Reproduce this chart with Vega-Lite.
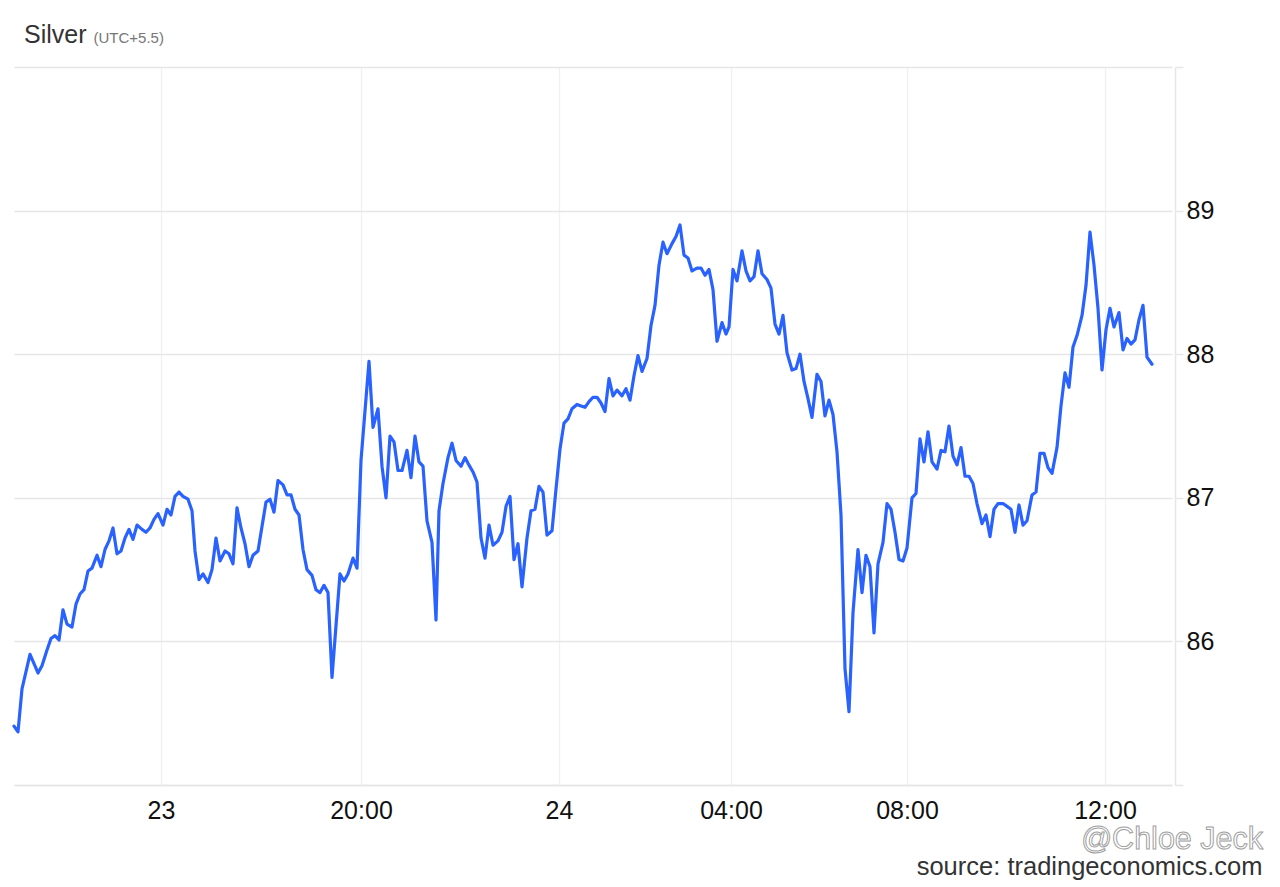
{
  "$schema": "https://vega.github.io/schema/vega-lite/v6.json",
  "width": 1158,
  "height": 718,
  "autosize": {"type": "none"},
  "padding": {"left": 14, "top": 67, "right": 108, "bottom": 102},
  "background": "#ffffff",
  "config": {"view": {"stroke": null}, "font": "Liberation Sans"},
  "title": {"text": "Silver", "anchor": "start", "frame": "group", "fontSize": 25, "fontWeight": "normal", "color": "#333333", "font": "Liberation Sans", "dx": 10, "dy": 58, "baseline": "alphabetic", "offset": 20},
  "layer": [
    {
      "data": {"values": [
        {"pos":0,"price":85.41},{"pos":4,"price":85.37},{"pos":8,"price":85.67},{"pos":16,"price":85.91},{"pos":24,"price":85.78},{"pos":28,"price":85.83},{"pos":33,"price":85.94},{"pos":37,"price":86.02},{"pos":41,"price":86.04},{"pos":45,"price":86.01},{"pos":49,"price":86.22},{"pos":53,"price":86.12},{"pos":58,"price":86.10},{"pos":62,"price":86.26},{"pos":66,"price":86.33},{"pos":70,"price":86.36},{"pos":74,"price":86.49},{"pos":78,"price":86.51},{"pos":83,"price":86.60},{"pos":87,"price":86.52},{"pos":91,"price":86.64},{"pos":95,"price":86.70},{"pos":99,"price":86.79},{"pos":103,"price":86.61},{"pos":107,"price":86.63},{"pos":111,"price":86.72},{"pos":115,"price":86.78},{"pos":119,"price":86.71},{"pos":123,"price":86.81},{"pos":128,"price":86.78},{"pos":132,"price":86.76},{"pos":136,"price":86.79},{"pos":140,"price":86.85},{"pos":144,"price":86.89},{"pos":149,"price":86.81},{"pos":153,"price":86.92},{"pos":157,"price":86.88},{"pos":161,"price":87.01},{"pos":165,"price":87.04},{"pos":169,"price":87.01},{"pos":174,"price":86.99},{"pos":178,"price":86.91},{"pos":181,"price":86.63},{"pos":185,"price":86.43},{"pos":189,"price":86.47},{"pos":194,"price":86.41},{"pos":198,"price":86.50},{"pos":202,"price":86.72},{"pos":206,"price":86.56},{"pos":211,"price":86.63},{"pos":215,"price":86.61},{"pos":219,"price":86.54},{"pos":223,"price":86.93},{"pos":227,"price":86.79},{"pos":231,"price":86.68},{"pos":235,"price":86.52},{"pos":239,"price":86.60},{"pos":244,"price":86.63},{"pos":248,"price":86.80},{"pos":252,"price":86.97},{"pos":256,"price":86.99},{"pos":260,"price":86.90},{"pos":264,"price":87.12},{"pos":269,"price":87.09},{"pos":273,"price":87.02},{"pos":277,"price":87.02},{"pos":281,"price":86.92},{"pos":285,"price":86.88},{"pos":289,"price":86.64},{"pos":293,"price":86.50},{"pos":298,"price":86.46},{"pos":302,"price":86.36},{"pos":306,"price":86.34},{"pos":310,"price":86.39},{"pos":314,"price":86.34},{"pos":318,"price":85.75},{"pos":326,"price":86.47},{"pos":330,"price":86.42},{"pos":334,"price":86.47},{"pos":339,"price":86.58},{"pos":343,"price":86.51},{"pos":347,"price":87.26},{"pos":355,"price":87.95},{"pos":359,"price":87.49},{"pos":364,"price":87.62},{"pos":368,"price":87.22},{"pos":372,"price":87.00},{"pos":376,"price":87.43},{"pos":380,"price":87.39},{"pos":384,"price":87.19},{"pos":388,"price":87.19},{"pos":393,"price":87.33},{"pos":397,"price":87.14},{"pos":401,"price":87.43},{"pos":405,"price":87.25},{"pos":409,"price":87.22},{"pos":413,"price":86.84},{"pos":418,"price":86.69},{"pos":422,"price":86.15},{"pos":425,"price":86.91},{"pos":429,"price":87.10},{"pos":434,"price":87.28},{"pos":438,"price":87.38},{"pos":442,"price":87.26},{"pos":447,"price":87.22},{"pos":451,"price":87.28},{"pos":454,"price":87.24},{"pos":459,"price":87.18},{"pos":463,"price":87.11},{"pos":467,"price":86.72},{"pos":471,"price":86.58},{"pos":475,"price":86.81},{"pos":479,"price":86.67},{"pos":484,"price":86.70},{"pos":488,"price":86.76},{"pos":492,"price":86.94},{"pos":496,"price":87.01},{"pos":500,"price":86.57},{"pos":504,"price":86.68},{"pos":508,"price":86.38},{"pos":513,"price":86.72},{"pos":517,"price":86.91},{"pos":521,"price":86.92},{"pos":525,"price":87.08},{"pos":529,"price":87.04},{"pos":533,"price":86.74},{"pos":538,"price":86.77},{"pos":542,"price":87.06},{"pos":546,"price":87.34},{"pos":550,"price":87.52},{"pos":554,"price":87.55},{"pos":558,"price":87.62},{"pos":563,"price":87.65},{"pos":567,"price":87.64},{"pos":571,"price":87.63},{"pos":575,"price":87.67},{"pos":579,"price":87.70},{"pos":583,"price":87.70},{"pos":587,"price":87.66},{"pos":591,"price":87.60},{"pos":595,"price":87.83},{"pos":599,"price":87.71},{"pos":603,"price":87.75},{"pos":608,"price":87.71},{"pos":612,"price":87.76},{"pos":616,"price":87.68},{"pos":620,"price":87.85},{"pos":624,"price":87.99},{"pos":628,"price":87.88},{"pos":633,"price":87.97},{"pos":637,"price":88.20},{"pos":641,"price":88.34},{"pos":645,"price":88.62},{"pos":649,"price":88.78},{"pos":653,"price":88.70},{"pos":658,"price":88.77},{"pos":662,"price":88.82},{"pos":666,"price":88.90},{"pos":670,"price":88.69},{"pos":674,"price":88.67},{"pos":678,"price":88.58},{"pos":683,"price":88.60},{"pos":687,"price":88.60},{"pos":691,"price":88.55},{"pos":695,"price":88.59},{"pos":699,"price":88.45},{"pos":703,"price":88.09},{"pos":708,"price":88.22},{"pos":712,"price":88.14},{"pos":715,"price":88.19},{"pos":719,"price":88.59},{"pos":723,"price":88.51},{"pos":728,"price":88.72},{"pos":732,"price":88.58},{"pos":736,"price":88.51},{"pos":740,"price":88.54},{"pos":744,"price":88.72},{"pos":748,"price":88.56},{"pos":753,"price":88.52},{"pos":757,"price":88.46},{"pos":761,"price":88.21},{"pos":765,"price":88.14},{"pos":769,"price":88.27},{"pos":773,"price":88.01},{"pos":778,"price":87.89},{"pos":782,"price":87.90},{"pos":786,"price":88.00},{"pos":790,"price":87.81},{"pos":794,"price":87.69},{"pos":798,"price":87.56},{"pos":803,"price":87.86},{"pos":807,"price":87.81},{"pos":811,"price":87.57},{"pos":815,"price":87.68},{"pos":819,"price":87.58},{"pos":823,"price":87.32},{"pos":827,"price":86.88},{"pos":831,"price":85.81},{"pos":835,"price":85.51},{"pos":839,"price":86.20},{"pos":844,"price":86.64},{"pos":848,"price":86.34},{"pos":852,"price":86.60},{"pos":856,"price":86.52},{"pos":860,"price":86.06},{"pos":864,"price":86.54},{"pos":869,"price":86.69},{"pos":873,"price":86.96},{"pos":877,"price":86.92},{"pos":881,"price":86.76},{"pos":885,"price":86.57},{"pos":889,"price":86.56},{"pos":893,"price":86.65},{"pos":898,"price":87.00},{"pos":902,"price":87.03},{"pos":906,"price":87.41},{"pos":910,"price":87.25},{"pos":914,"price":87.46},{"pos":918,"price":87.25},{"pos":923,"price":87.20},{"pos":927,"price":87.33},{"pos":931,"price":87.32},{"pos":935,"price":87.50},{"pos":939,"price":87.29},{"pos":943,"price":87.23},{"pos":947,"price":87.35},{"pos":951,"price":87.15},{"pos":955,"price":87.15},{"pos":959,"price":87.10},{"pos":963,"price":86.96},{"pos":968,"price":86.82},{"pos":972,"price":86.88},{"pos":976,"price":86.73},{"pos":980,"price":86.92},{"pos":984,"price":86.96},{"pos":989,"price":86.96},{"pos":993,"price":86.94},{"pos":997,"price":86.92},{"pos":1001,"price":86.76},{"pos":1005,"price":86.95},{"pos":1009,"price":86.81},{"pos":1013,"price":86.84},{"pos":1018,"price":87.02},{"pos":1022,"price":87.04},{"pos":1026,"price":87.31},{"pos":1030,"price":87.31},{"pos":1034,"price":87.21},{"pos":1038,"price":87.17},{"pos":1043,"price":87.35},{"pos":1047,"price":87.64},{"pos":1051,"price":87.87},{"pos":1055,"price":87.77},{"pos":1059,"price":88.05},{"pos":1063,"price":88.13},{"pos":1068,"price":88.27},{"pos":1072,"price":88.48},{"pos":1076,"price":88.85},{"pos":1080,"price":88.62},{"pos":1084,"price":88.32},{"pos":1088,"price":87.89},{"pos":1092,"price":88.17},{"pos":1096,"price":88.32},{"pos":1100,"price":88.19},{"pos":1105,"price":88.29},{"pos":1109,"price":88.03},{"pos":1113,"price":88.11},{"pos":1117,"price":88.07},{"pos":1121,"price":88.10},{"pos":1125,"price":88.24},{"pos":1129,"price":88.34},{"pos":1133,"price":87.98},{"pos":1138,"price":87.93}
      ]},
      "mark": {"type": "line", "color": "#2962ff", "strokeWidth": 3.2, "strokeJoin": "round", "strokeCap": "round"},
      "encoding": {
        "x": {
          "field": "pos", "type": "quantitative",
          "scale": {"domain": [0, 1158], "nice": false, "zero": false},
          "axis": {
            "orient": "bottom",
            "values": [147, 347, 545, 717, 893, 1091],
            "labelExpr": "datum.value == 147 ? '23' : datum.value == 347 ? '20:00' : datum.value == 545 ? '24' : datum.value == 717 ? '04:00' : datum.value == 893 ? '08:00' : '12:00'",
            "ticks": false,
            "domainColor": "#e6e6e6", "domainWidth": 1.5,
            "grid": true, "gridColor": "#edf1f7", "gridWidth": 1.3,
            "labelFont": "Liberation Sans", "labelFontSize": 25, "labelColor": "#111111", "labelPadding": 13, "labelFlush": false, "labelOverlap": false,
            "title": "source: tradingeconomics.com",
            "titleX": 1248, "titleY": 89, "titleAlign": "right", "titleBaseline": "alphabetic",
            "titleFont": "Liberation Sans", "titleFontSize": 25.5, "titleFontWeight": "normal", "titleColor": "#333333"
          }
        },
        "y": {
          "field": "price", "type": "quantitative",
          "scale": {"domain": [85, 90], "nice": false, "zero": false},
          "axis": {
            "orient": "right", "offset": 3,
            "values": [85, 86, 87, 88, 89, 90],
            "format": ".0f",
            "labelExpr": "datum.value == 85 || datum.value == 90 ? '' : datum.label",
            "tickSize": 8, "tickColor": "#e6e6e6", "tickWidth": 1.5,
            "domainColor": "#e6e6e6", "domainWidth": 1.5,
            "grid": true, "gridColor": "#e6e6e6", "gridWidth": 1.5,
            "labelFont": "Liberation Sans", "labelFontSize": 25, "labelColor": "#111111", "labelPadding": 3,
            "title": "(UTC+5.5)", "titleAngle": 0, "titleX": -1082, "titleY": -25, "titleAlign": "left", "titleBaseline": "alphabetic",
            "titleFont": "Liberation Sans", "titleFontSize": 15, "titleFontWeight": "normal", "titleColor": "#777777"
          }
        }
      }
    },
    {
      "data": {"values": [{}]},
      "mark": {"type": "text", "align": "right", "baseline": "alphabetic", "fontSize": 30.5, "font": "Liberation Sans", "fill": "#ffffff", "stroke": "#a0a0a0", "strokeWidth": 1},
      "encoding": {
        "x": {"datum": 1249, "type": "quantitative"},
        "y": {"datum": 84.556, "type": "quantitative"},
        "text": {"value": "@Chloe Jeck"}
      }
    }
  ]
}
